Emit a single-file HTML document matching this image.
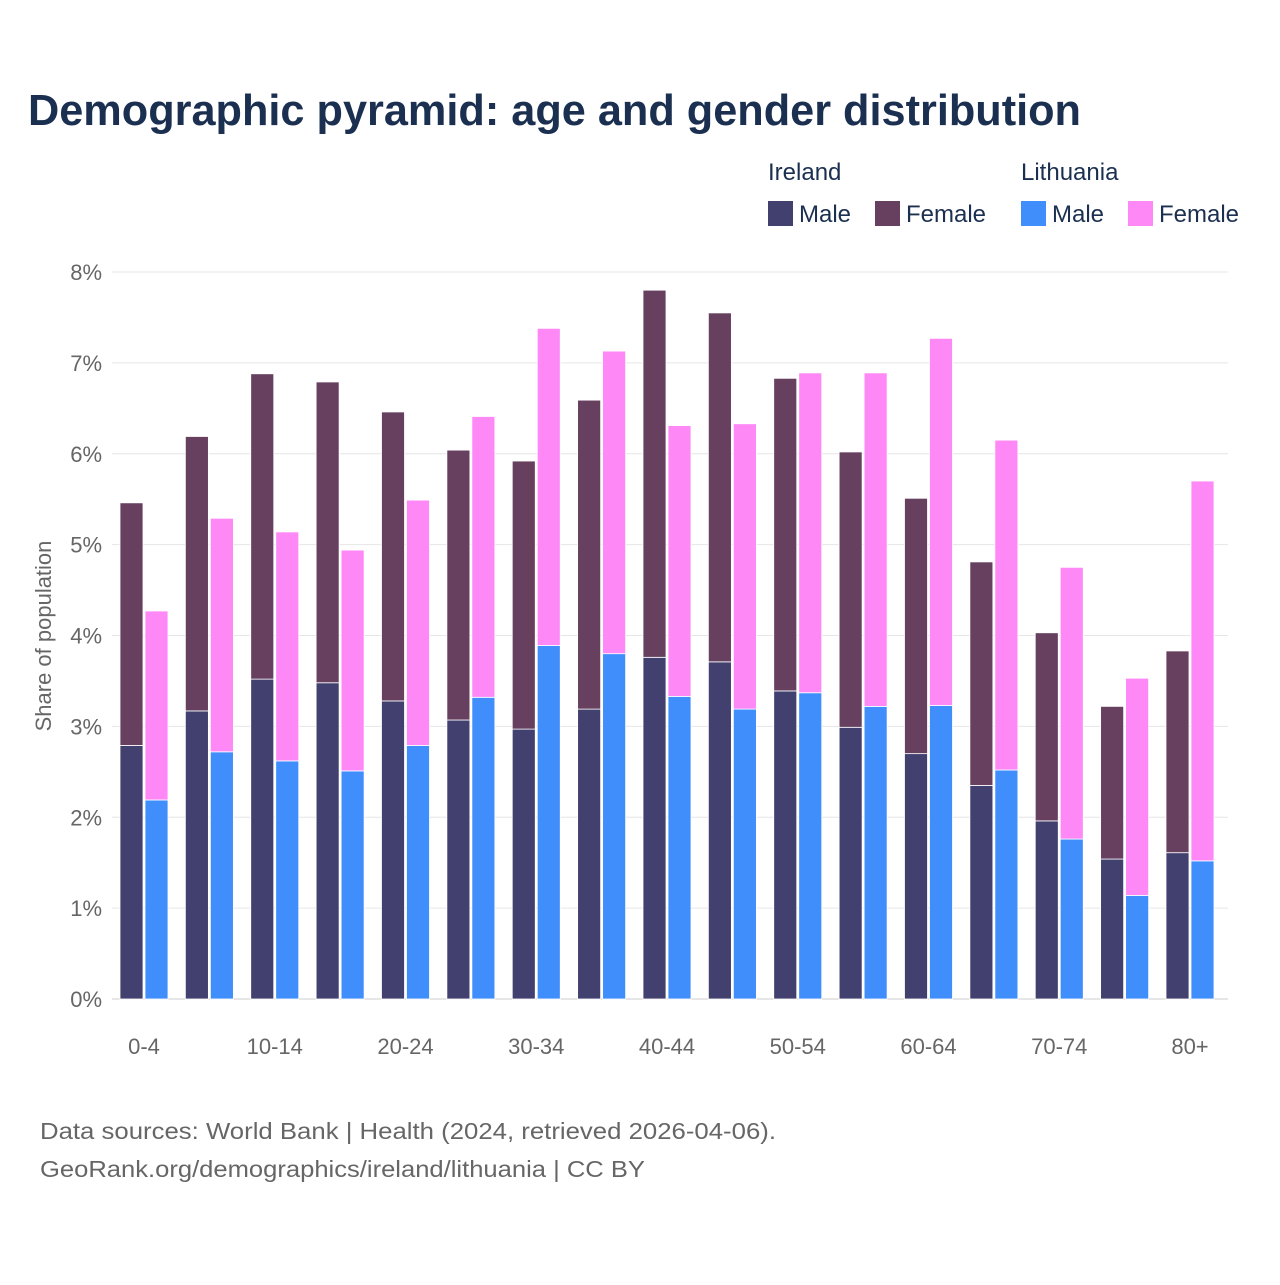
<!DOCTYPE html>
<html><head><meta charset="utf-8">
<style>
body{margin:0;background:#fff;font-family:"Liberation Sans",sans-serif;}
svg text{font-family:"Liberation Sans",sans-serif;}
</style></head>
<body>
<svg id="chart" width="1280" height="1280" xmlns="http://www.w3.org/2000/svg">
<rect width="1280" height="1280" fill="#fff"/>
<text x="28" y="125" font-size="44" font-weight="bold" fill="#1b2f50" textLength="1053" lengthAdjust="spacingAndGlyphs">Demographic pyramid: age and gender distribution</text>
<g font-size="24" fill="#1b2f50">
<text x="768" y="180" fill="#1b2f50">Ireland</text>
<text x="1021" y="180" fill="#1b2f50">Lithuania</text>
<g><rect x="768" y="201" width="25" height="25" fill="#41406f"/><text x="799" y="222" fill="#1b2f50">Male</text></g>
<g><rect x="875" y="201" width="25" height="25" fill="#67405f"/><text x="906" y="222" fill="#1b2f50">Female</text></g>
<g><rect x="1021" y="201" width="25" height="25" fill="#3f8efc"/><text x="1052" y="222" fill="#1b2f50">Male</text></g>
<g><rect x="1128" y="201" width="25" height="25" fill="#ff88f7"/><text x="1159" y="222" fill="#1b2f50">Female</text></g>
</g>
<g id="grid"></g>
<g id="bars"></g>
<g id="xlabels"></g>
<text transform="translate(51,636) rotate(-90)" text-anchor="middle" font-size="22" fill="#666">Share of population</text>
<text x="40" y="1139" font-size="23" fill="#666" textLength="736" lengthAdjust="spacingAndGlyphs">Data sources: World Bank | Health (2024, retrieved 2026-04-06).</text>
<text x="40" y="1177" font-size="23" fill="#666" textLength="605" lengthAdjust="spacingAndGlyphs">GeoRank.org/demographics/ireland/lithuania | CC BY</text>
</svg>
<script>
const categories=["0-4","5-9","10-14","15-19","20-24","25-29","30-34","35-39","40-44","45-49","50-54","55-59","60-64","65-69","70-74","75-79","80+"];
const ieMale=[2.79,3.17,3.52,3.48,3.28,3.07,2.97,3.19,3.76,3.71,3.39,2.99,2.70,2.35,1.96,1.54,1.61];
const ieFemale=[2.67,3.02,3.36,3.31,3.18,2.97,2.95,3.40,4.04,3.84,3.44,3.03,2.81,2.46,2.07,1.68,2.22];
const ltMale=[2.19,2.72,2.62,2.51,2.79,3.32,3.89,3.80,3.33,3.19,3.37,3.22,3.23,2.52,1.76,1.14,1.52];
const ltFemale=[2.08,2.57,2.52,2.43,2.70,3.09,3.49,3.33,2.98,3.14,3.52,3.67,4.04,3.63,2.99,2.39,4.18];
const yTicks=[0,1,2,3,4,5,6,7,8];
const xLabelIdx=[0,2,4,6,8,10,12,14,16];
const NS="http://www.w3.org/2000/svg";
const y=v=>999-v*90.875;
const xc=i=>144+i*65.375;
function mk(tag,attrs,parent){const e=document.createElementNS(NS,tag);for(const k in attrs)e.setAttribute(k,attrs[k]);parent.appendChild(e);return e;}
const grid=document.getElementById('grid'),bars=document.getElementById('bars'),xl=document.getElementById('xlabels');
yTicks.forEach(t=>{
  const l=mk('line',{x1:112,x2:1228,y1:y(t),y2:y(t),stroke:t===0?'#ccc':'#e6e6e6','stroke-width':1},grid);
  
  
  const tx=mk('text',{x:102,y:y(t)+8,'text-anchor':'end','font-size':22,fill:'#666'},grid);
  tx.textContent=t+'%';
  
  
});
function bar(x,v0,v1,col,name){
  const r=mk('rect',{x:x,y:y(v1),width:23,height:y(v0)-y(v1),fill:col,stroke:'#fff','stroke-width':0.8},bars);
  
  
}
categories.forEach((c,i)=>{
  const cx=xc(i);
  bar(cx-24,0,ieMale[i],'#41406f','bar-ireland-male-'+c);
  bar(cx-24,ieMale[i],ieMale[i]+ieFemale[i],'#67405f','bar-ireland-female-'+c);
  bar(cx+1,0,ltMale[i],'#3f8efc','bar-lithuania-male-'+c);
  bar(cx+1,ltMale[i],ltMale[i]+ltFemale[i],'#ff88f7','bar-lithuania-female-'+c);
});
xLabelIdx.forEach(i=>{
  const t=mk('text',{x:xc(i),y:1054,'text-anchor':'middle','font-size':22,fill:'#666'},xl);
  t.textContent=categories[i];
  
  
});
</script>
</body></html>
